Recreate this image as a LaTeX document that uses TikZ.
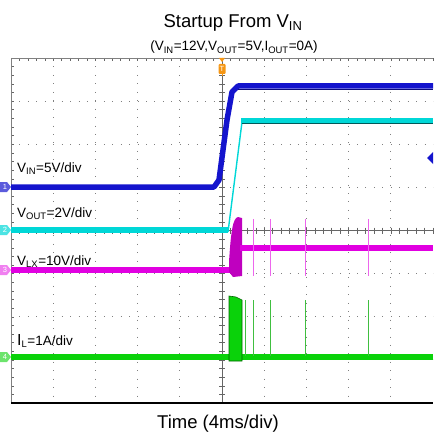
\documentclass[tikz,border=0pt]{standalone}
\usepackage{fontspec}
\setmainfont{Liberation Sans}
\definecolor{chblue}{RGB}{20,20,205}
\definecolor{chcyan}{RGB}{0,215,215}
\definecolor{chmag}{RGB}{225,0,225}
\definecolor{chgreen}{RGB}{10,210,10}
\definecolor{trigorange}{RGB}{245,150,20}
\tikzset{
  griddot/.style={gray, line width=0.9pt, dash pattern=on 0.9pt off 7.54pt},
  trace/.style={line width=5.5pt},
  spike/.style={line width=1pt},
  lbl/.style={anchor=base west, inner sep=0pt, font=\fontsize{13.5}{13.5}\selectfont},
  chmark/.style={inner sep=0pt, text=white, font=\fontsize{7.5}{7.5}\selectfont}
}
\begin{document}
\begin{tikzpicture}[x=1pt,y=-1pt]
\useasboundingbox (0,0) rectangle (433,433);
% grid
\foreach \i in {1,...,9}
  \draw[griddot] (11+42.2*\i,58)--(11+42.2*\i,403);
\foreach \j in {1,...,7}
  \draw[griddot] (11,58+43.125*\j)--(433,58+43.125*\j);
% centre lines with ticks
\draw[gray!80!black, line width=0.6pt] (222,58)--(222,403);
\draw[gray!80!black, line width=0.6pt] (11,230.5)--(433,230.5);
\foreach \k in {0,...,40} {
  \draw[gray!80!black, line width=0.5pt] (219,58+8.625*\k)--(225,58+8.625*\k);
  \draw[gray!80!black, line width=0.5pt] (11,58+8.625*\k)--(14,58+8.625*\k);
}
\foreach \k in {0,...,50} {
  \draw[gray!80!black, line width=0.5pt] (11+8.44*\k,227.5)--(11+8.44*\k,233.5);
  \draw[gray!80!black, line width=0.5pt] (11+8.44*\k,58)--(11+8.44*\k,61);
}
% border
\draw[gray, line width=0.8pt] (11,403)--(11,58)--(433,58);
\draw[black, line width=1.6pt] (11,403)--(433,403);
% Vin
\draw[chblue, trace, line join=round] (11,187)--(214,187)--(219,180)--(227,120)--(232,92)--(238,86)--(433,86);
\draw[chblue!60!black, line width=0.6pt] (238,89.5)--(433,89.5);
% Vout
\draw[chcyan, line width=1.4pt] (228,232)--(242,122);
\draw[chcyan, trace] (11,230)--(228,230);
\draw[chcyan, trace] (241,121)--(433,121);
\draw[teal!70!black, line width=0.6pt] (242,123.5)--(433,123.5);
% Vlx
\draw[chmag, trace] (11,270)--(230,270);
\fill[chmag!85!black] (229,272)--(229,262) .. controls (231,230) and (233,218) .. (238,217)--(242,218)--(242,276)--(233,277)--cycle;
\draw[chmag, trace] (240,248)--(433,248);
\foreach \s in {253,270,305,368}
  \draw[chmag!60, spike] (\s,219)--(\s,276);
% IL
\draw[chgreen, trace] (11,357)--(433,357);
\fill[chgreen, draw=green!40!black, line width=0.6pt] (229,296)--(236,297)--(242,300)--(242,361)--(229,361)--cycle;
\foreach \s in {245,253,270,305,368}
  \draw[green!50!gray, spike] (\s,300)--(\s,356);
% trigger and channel markers
\fill[trigorange] (219,58)--(225,58)--(222,62)--cycle;
\node[chmark, fill=trigorange, minimum width=7pt, minimum height=10pt, rounded corners=1pt] (trig) at (222,69) {T};
\draw[trigorange, line width=0.6pt] (trig.south)--(222,76);
\foreach \c/\y/\col in {1/187/chblue!70, 2/230/chcyan!70, 3/270/chmag!50, 4/357/chgreen!60} {
  \fill[\col] (0,\y-5)--(7,\y-5)--(11,\y)--(7,\y+5)--(0,\y+5)--cycle;
  \node[chmark] (mk\c) at (5,\y) {\c};
}
\fill[chblue] (433,152)--(427,158)--(433,164)--cycle;
% labels
\node[lbl] (vin) at (17,172) {V\textsubscript{IN}=5V/div};
\node[lbl] (vout) at (17,217) {V\textsubscript{OUT}=2V/div};
\node[lbl] (vlx) at (17,265) {V\textsubscript{LX}=10V/div};
\node[lbl] (il) at (17,345) {{\fontsize{16}{16}\selectfont I}\textsubscript{L}=1A/div};
\node[anchor=base, inner sep=0pt, font=\fontsize{18.5}{18.5}\selectfont] (title) at (233,28) {Startup From V\textsubscript{IN}};
\node[anchor=base, inner sep=0pt, font=\fontsize{13.5}{13.5}\selectfont] (cond) at (234,51) {(V\textsubscript{IN}=12V,V\textsubscript{OUT}=5V,I\textsubscript{OUT}=0A)};
\node[anchor=base, inner sep=0pt, font=\fontsize{18.5}{18.5}\selectfont] (time) at (218,428) {Time (4ms/div)};
\end{tikzpicture}
\end{document}
